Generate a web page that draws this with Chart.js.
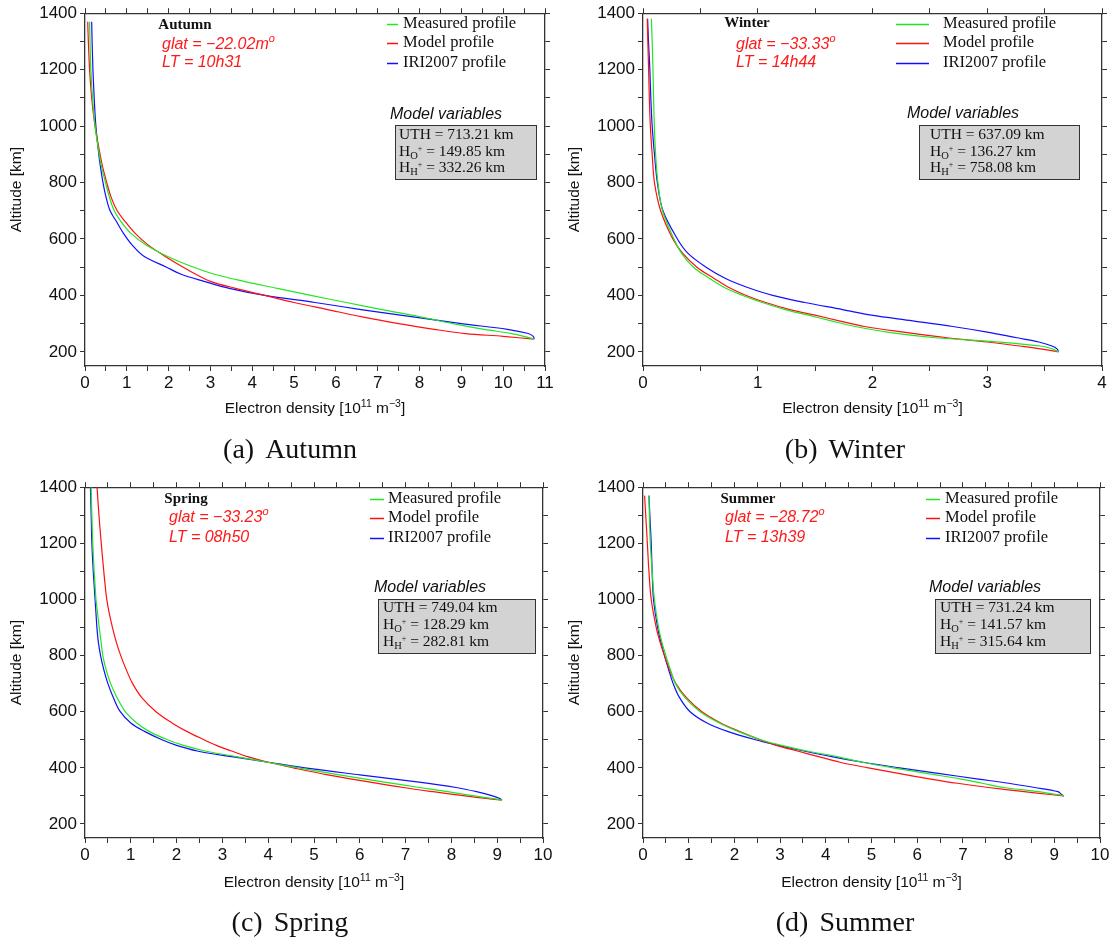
<!DOCTYPE html>
<html>
<head>
<meta charset="utf-8">
<title>Electron density profiles</title>
<script src="https://cdn.jsdelivr.net/npm/chart.js@4.4.1/dist/chart.umd.min.js"></script>
<style>
  html, body { margin: 0; padding: 0; background: #fff; }
  #fig { position: relative; width: 1114px; height: 940px; overflow: hidden; }
  .panel { position: absolute; width: 557px; height: 440px; }
  .cap { position: absolute; width: 300px; text-align: center; color: #111;
         font: 28px "Liberation Serif", "Times New Roman", serif; line-height: 30px; }
  .cap span { margin-right: 11px; }
</style>
</head>
<body>
<div id="fig">
  <canvas class="panel" id="pa" width="557" height="440" style="left:0;top:0"></canvas>
  <canvas class="panel" id="pb" width="557" height="440" style="left:558px;top:0"></canvas>
  <canvas class="panel" id="pc" width="557" height="440" style="left:0;top:474px"></canvas>
  <canvas class="panel" id="pd" width="557" height="440" style="left:558px;top:474px"></canvas>
  <div class="cap" style="left:140px;top:434px"><span>(a)</span>Autumn</div>
  <div class="cap" style="left:695px;top:434px"><span>(b)</span>Winter</div>
  <div class="cap" style="left:140px;top:907px"><span>(c)</span>Spring</div>
  <div class="cap" style="left:695px;top:907px"><span>(d)</span>Summer</div>
</div>
<script>
// ── values (density in 1e11 m^-3 at each altitude in km) ──
const seriesNames = ['Measured profile', 'Model profile', 'IRI2007 profile'];
const seriesColors = ['#22e622', '#ff1010', '#1010ff'];

const autumnAlt      = [245, 255, 265, 280, 300, 325, 350, 375, 400, 425, 450, 475, 500, 540, 580, 620, 660, 700, 750, 800, 850, 900, 1000, 1100, 1200, 1300, 1370];
const autumnMeasured = [10.74, 10.5, 10.2, 9.55, 8.8, 8.0, 7.1, 6.25, 5.4, 4.6, 3.8, 3.1, 2.6, 1.95, 1.45, 1.1, 0.87, 0.7, 0.58, 0.49, 0.405, 0.34, 0.24, 0.18, 0.14, 0.12, 0.11];
const autumnModel    = [10.74, 10.0, 9.1, 8.35, 7.5, 6.6, 5.8, 5.0, 4.3, 3.6, 3.0, 2.65, 2.35, 1.9, 1.5, 1.2, 0.97, 0.77, 0.62, 0.52, 0.43, 0.36, 0.24, 0.16, 0.11, 0.08, 0.065];
const autumnIri      = [10.74, 10.72, 10.6, 10.1, 9.0, 7.8, 6.6, 5.5, 4.3, 3.45, 2.85, 2.3, 1.95, 1.4, 1.12, 0.92, 0.76, 0.6, 0.5, 0.43, 0.375, 0.33, 0.26, 0.22, 0.19, 0.17, 0.16];

const winterAlt      = [200, 210, 220, 235, 250, 270, 290, 310, 330, 350, 375, 400, 430, 460, 500, 550, 600, 700, 800, 900, 1000, 1100, 1200, 1300, 1380];
const winterMeasured = [3.62, 3.57, 3.48, 3.1, 2.55, 2.13, 1.85, 1.64, 1.44, 1.24, 1.04, 0.87, 0.70, 0.58, 0.44, 0.335, 0.27, 0.17, 0.13, 0.11, 0.099, 0.092, 0.087, 0.08, 0.073];
const winterModel    = [3.62, 3.48, 3.3, 3.0, 2.65, 2.27, 1.93, 1.71, 1.5, 1.28, 1.07, 0.90, 0.74, 0.62, 0.47, 0.345, 0.26, 0.154, 0.10, 0.08, 0.064, 0.055, 0.049, 0.042, 0.037];
const winterIri      = [3.62, 3.61, 3.57, 3.45, 3.26, 3.0, 2.7, 2.35, 1.99, 1.74, 1.41, 1.13, 0.90, 0.72, 0.55, 0.39, 0.30, 0.174, 0.125, 0.10, 0.08, 0.068, 0.06, 0.048, 0.04];

const springAlt      = [285, 290, 300, 315, 330, 350, 375, 400, 420, 440, 460, 480, 500, 530, 560, 600, 650, 700, 750, 800, 850, 900, 950, 1000, 1050, 1100, 1200, 1300, 1420];
const springMeasured = [9.1, 8.92, 8.5, 7.92, 7.3, 6.5, 5.55, 4.67, 3.98, 3.3, 2.62, 2.15, 1.8, 1.4, 1.13, 0.88, 0.7, 0.56, 0.46, 0.39, 0.35, 0.31, 0.275, 0.24, 0.22, 0.2, 0.17, 0.15, 0.13];
const springModel    = [9.1, 8.8, 8.3, 7.6, 6.95, 6.2, 5.3, 4.55, 4.0, 3.55, 3.2, 2.87, 2.6, 2.22, 1.9, 1.55, 1.24, 1.04, 0.9, 0.78, 0.68, 0.6, 0.53, 0.475, 0.44, 0.41, 0.355, 0.305, 0.255];
const springIri      = [9.1, 9.07, 8.9, 8.55, 8.1, 7.25, 6.0, 4.8, 4.0, 3.2, 2.45, 2.0, 1.68, 1.3, 1.0, 0.77, 0.62, 0.5, 0.41, 0.34, 0.29, 0.26, 0.24, 0.22, 0.2, 0.18, 0.15, 0.135, 0.115];

const summerAlt      = [300, 305, 315, 330, 345, 360, 380, 400, 420, 440, 460, 480, 500, 530, 560, 600, 650, 700, 750, 800, 850, 900, 1000, 1100, 1200, 1300, 1370];
const summerMeasured = [9.21, 9.05, 8.65, 7.9, 7.43, 6.96, 6.21, 5.47, 4.8, 4.25, 3.59, 3.03, 2.58, 2.08, 1.67, 1.25, 0.92, 0.71, 0.6, 0.5, 0.41, 0.34, 0.25, 0.2, 0.16, 0.14, 0.13];
const summerModel    = [9.21, 8.9, 8.34, 7.56, 6.88, 6.3, 5.59, 4.93, 4.31, 3.84, 3.38, 2.92, 2.56, 2.11, 1.7, 1.29, 0.95, 0.72, 0.58, 0.47, 0.37, 0.29, 0.18, 0.13, 0.095, 0.06, 0.035];
const summerIri      = [9.21, 9.16, 9.08, 8.57, 8.0, 7.34, 6.46, 5.61, 4.81, 4.13, 3.52, 2.95, 2.46, 1.85, 1.4, 1.03, 0.8, 0.66, 0.56, 0.47, 0.39, 0.32, 0.23, 0.2, 0.18, 0.15, 0.13];

// axis ranges
const xMaxValues = [11, 4, 10, 10];
const yMin = 150, yMax = 1400;

// annotation texts
const seasons    = ['Autumn', 'Winter', 'Spring', 'Summer'];
const glatValues = ['\u221222.02m', '\u221233.33', '\u221233.23', '\u221228.72'];
const localTimes = ['10h31', '14h44', '08h50', '13h39'];
const uthValues  = ['713.21', '637.09', '749.04', '731.24'];
const hoValues   = ['149.85', '136.27', '128.29', '141.57'];
const hhValues   = ['332.26', '758.08', '282.81', '315.64'];

// ── layout (canvas pixels inside each 557x440 panel) ──
const layout = [
  { area: { left: 85, top: 12, right: 545, bottom: 366 }, seasonX: 185, glatX: 162, rows: [25, 45, 63],
    legLine: [387, 398], legText: 403, legRows: [24, 43, 63], mvX: 446, mvY: 115, box: [395, 125, 141, 54], boxText: 399, boxRows: [135, 152, 168] },
  { area: { left: 85, top: 12, right: 544, bottom: 366 }, seasonX: 189, glatX: 178, rows: [23, 45, 63],
    legLine: [338, 371], legText: 385, legRows: [24, 43, 63], mvX: 405, mvY: 114, box: [361, 125, 160, 54], boxText: 372, boxRows: [135, 152, 168] },
  { area: { left: 85, top: 12, right: 543, bottom: 364 }, seasonX: 186, glatX: 169, rows: [25, 44, 64],
    legLine: [370, 384], legText: 388, legRows: [25, 44, 64], mvX: 430, mvY: 114, box: [378, 125, 157, 54], boxText: 383, boxRows: [134, 151, 168] },
  { area: { left: 85, top: 12, right: 542, bottom: 364 }, seasonX: 190, glatX: 167, rows: [25, 44, 64],
    legLine: [368, 382], legText: 387, legRows: [25, 44, 64], mvX: 427, mvY: 114, box: [377, 125, 155, 54], boxText: 382, boxRows: [134, 151, 168] },
];

const SANS = '"Liberation Sans", Arial, sans-serif';
const SERIF = '"Liberation Serif", "Times New Roman", serif';

function runsWidth(ctx, runs) {
  let w = 0;
  runs.forEach(r => { ctx.font = r.font; w += ctx.measureText(r.t).width; });
  return w;
}
function drawRuns(ctx, runs, x, y, center) {
  let cx = center ? x - runsWidth(ctx, runs) / 2 : x;
  ctx.textAlign = 'left';
  runs.forEach(r => {
    ctx.font = r.font;
    ctx.fillText(r.t, cx, y + (r.dy || 0));
    cx += ctx.measureText(r.t).width;
  });
}

// draws titles, annotations, legend and the model-variables box
const decorPlugin = {
  id: 'decor',
  afterDraw(chart) {
    const k = chart.options.plugins.decor.index;
    const L = layout[k];
    const a = chart.chartArea;
    const ctx = chart.ctx;
    ctx.save();
    ctx.textBaseline = 'middle';
    ctx.fillStyle = '#111';

    // x title
    const base = '15.5px ' + SANS, sup = '10.5px ' + SANS;
    drawRuns(ctx, [
      { t: 'Electron density [10', font: base },
      { t: '11', font: sup, dy: -5 },
      { t: ' m', font: base },
      { t: '\u22123', font: sup, dy: -5 },
      { t: ']', font: base },
    ], (a.left + a.right) / 2, 409, true);

    // y title
    ctx.save();
    ctx.translate(17, (a.top + a.bottom) / 2);
    ctx.rotate(-Math.PI / 2);
    ctx.font = base;
    ctx.textAlign = 'center';
    ctx.fillText('Altitude [km]', 0, 0);
    ctx.restore();

    // season + position/time
    ctx.font = 'bold 15px ' + SERIF;
    ctx.textAlign = 'center';
    ctx.fillText(seasons[k], L.seasonX, L.rows[0]);
    ctx.fillStyle = '#ff1a1a';
    const it = 'italic 16px ' + SANS;
    drawRuns(ctx, [
      { t: 'glat = ' + glatValues[k], font: it },
      { t: 'o', font: 'italic 11px ' + SANS, dy: -6 },
    ], L.glatX, L.rows[1], false);
    drawRuns(ctx, [{ t: 'LT = ' + localTimes[k], font: it }], L.glatX, L.rows[2], false);

    // legend
    seriesNames.forEach((name, i) => {
      const y = L.legRows[i];
      ctx.beginPath();
      ctx.strokeStyle = seriesColors[i];
      ctx.lineWidth = 1.5;
      ctx.moveTo(L.legLine[0], y + 0.5);
      ctx.lineTo(L.legLine[1], y + 0.5);
      ctx.stroke();
      ctx.fillStyle = '#111';
      ctx.font = '16.5px ' + SERIF;
      ctx.textAlign = 'left';
      ctx.fillText(name, L.legText, y);
    });

    // model variables box
    ctx.fillStyle = '#111';
    ctx.font = 'italic 16px ' + SANS;
    ctx.textAlign = 'center';
    ctx.fillText('Model variables', L.mvX, L.mvY);
    const [bx, by, bw, bh] = L.box;
    ctx.fillStyle = '#d3d3d3';
    ctx.fillRect(bx, by, bw, bh);
    ctx.strokeStyle = '#333';
    ctx.lineWidth = 1;
    ctx.strokeRect(bx + 0.5, by + 0.5, bw, bh);
    ctx.fillStyle = '#111';
    const f = '15.5px ' + SERIF, fs = '10.5px ' + SERIF, fp = '8px ' + SERIF;
    drawRuns(ctx, [{ t: 'UTH = ' + uthValues[k] + ' km', font: f }], L.boxText, L.boxRows[0], false);
    drawRuns(ctx, [
      { t: 'H', font: f }, { t: 'O', font: fs, dy: 4 }, { t: '+', font: fp, dy: -3 },
      { t: ' = ' + hoValues[k] + ' km', font: f },
    ], L.boxText, L.boxRows[1], false);
    drawRuns(ctx, [
      { t: 'H', font: f }, { t: 'H', font: fs, dy: 4 }, { t: '+', font: fp, dy: -3 },
      { t: ' = ' + hhValues[k] + ' km', font: f },
    ], L.boxText, L.boxRows[2], false);
    ctx.restore();
  }
};

function isWhole(v, step) { return Math.abs(v / step - Math.round(v / step)) < 1e-6; }

function buildChart(canvasId, k, alt, series) {
  const L = layout[k];
  const W = 557, H = 440;
  const border = { display: true, color: '#333', width: 1.3 };
  const grid = { drawOnChartArea: false, drawTicks: true, tickLength: 5, tickColor: '#333', tickWidth: 1 };
  const xTicks = { stepSize: 0.5, autoSkip: false, maxRotation: 0, includeBounds: false, padding: 2,
                   color: '#111', font: { size: 17, family: SANS },
                   callback: v => isWhole(v, 1) ? Math.round(v) : '' };
  const yTicks = { stepSize: 100, autoSkip: false, includeBounds: false, padding: 3,
                   color: '#111', font: { size: 17, family: SANS },
                   callback: v => isWhole(v, 200) ? v : '' };

  return new Chart(document.getElementById(canvasId), {
    type: 'scatter',
    data: {
      datasets: series.map((vals, i) => ({
        label: seriesNames[i],
        data: alt.map((h, j) => ({ x: vals[j], y: h })),
        showLine: true,
        borderColor: seriesColors[i],
        backgroundColor: seriesColors[i],
        borderWidth: 1.2,
        pointRadius: 0,
        tension: 0.35,
      }))
    },
    options: {
      responsive: false,
      animation: false,
      layout: { padding: 0 },
      plugins: { legend: { display: false }, tooltip: { enabled: false }, decor: { index: k } },
      scales: {
        x: { type: 'linear', position: 'bottom', min: 0, max: xMaxValues[k],
             ticks: xTicks, grid, border,
             afterFit: s => { s.height = H - L.area.bottom; } },
        x2: { type: 'linear', axis: 'x', position: 'top', min: 0, max: xMaxValues[k],
              ticks: { ...xTicks, display: false }, grid, border,
              afterFit: s => { s.height = L.area.top; } },
        y: { type: 'linear', position: 'left', min: yMin, max: yMax,
             ticks: yTicks, grid, border,
             afterFit: s => { s.width = L.area.left; } },
        y2: { type: 'linear', axis: 'y', position: 'right', min: yMin, max: yMax,
              ticks: { ...yTicks, display: false }, grid, border,
              afterFit: s => { s.width = W - L.area.right; } },
      }
    },
    plugins: [decorPlugin]
  });
}

buildChart('pa', 0, autumnAlt, [autumnMeasured, autumnModel, autumnIri]);
buildChart('pb', 1, winterAlt, [winterMeasured, winterModel, winterIri]);
buildChart('pc', 2, springAlt, [springMeasured, springModel, springIri]);
buildChart('pd', 3, summerAlt, [summerMeasured, summerModel, summerIri]);
</script>
</body>
</html>
